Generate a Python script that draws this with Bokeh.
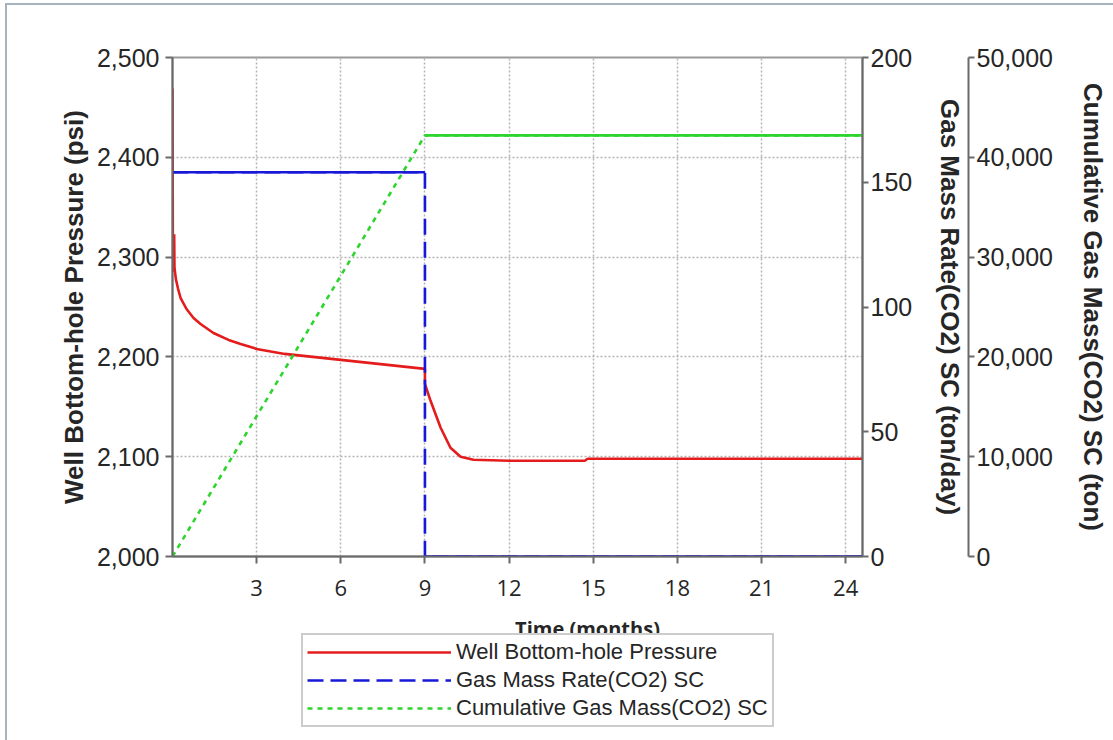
from bokeh.plotting import figure
from bokeh.layouts import column
from bokeh.models import (LinearAxis, Range1d, FixedTicker, NumeralTickFormatter,
                          Legend, LegendItem, Label)
from bokeh.embed import file_html
from bokeh.resources import INLINE

# ---------------- data ----------------
pressure_time = [0.0, 0.015, 0.06, 0.07, 0.12, 0.2, 0.29, 0.5, 0.75, 1.0, 1.46, 2.0, 2.43,
                 3.0, 4.0, 5.0, 6.0, 7.0, 8.0, 9.0,
                 9.0, 9.2, 9.56, 9.91, 10.27, 10.73, 12.0, 14.7, 14.8, 24.6]
pressure_psi = [2469, 2285, 2323, 2290, 2278, 2268, 2259, 2248, 2239, 2233, 2224, 2217, 2213,
                2208, 2203, 2200, 2197, 2194, 2191, 2188,
                2173, 2156, 2129, 2109, 2100, 2097, 2096, 2096, 2098, 2098]

rate_time = [0.0, 9.0, 9.0, 24.6]
rate_ton_day = [154, 154, 0, 0]

cum_time = [0.0, 9.0, 24.6]
cum_ton = [0, 42200, 42200]

x_ticks = [3, 6, 9, 12, 15, 18, 21, 24]
psi_ticks = [2000, 2100, 2200, 2300, 2400, 2500]
rate_ticks = [0, 50, 100, 150, 200]
cum_ticks = [0, 10000, 20000, 30000, 40000, 50000]

series_names = ["Well Bottom-hole Pressure", "Gas Mass Rate(CO2) SC",
                "Cumulative Gas Mass(CO2) SC"]
x_title = "Time (months)"
rate_title = "Gas Mass Rate(CO2) SC (ton/day)"
cum_title = "Cumulative Gas Mass(CO2) SC (ton)"

# ---------------- styles ----------------
RED = "#e41c1c"
BLUE = "#1818d8"
GREEN = "#2ed42e"
AX = "#6a6a6a"
TXT = "#262626"
NUM_FONT = "Liberation Sans"
NUM_SIZE = "25px"
TITLE_SIZE = "26px"
W = 1106
LEFT = 165
RIGHT = 251
FRAME_W = W - LEFT - RIGHT

p = figure(width=W, height=605, output_backend="svg", toolbar_location=None,
           x_range=Range1d(0, 24.6), y_range=Range1d(2000, 2500),
           min_border_left=LEFT, min_border_right=RIGHT, min_border_top=52,
           min_border_bottom=54, background_fill_color="white",
           border_fill_color="white")
p.extra_y_ranges = {"rate": Range1d(0, 200), "cum": Range1d(0, 50000)}

p.outline_line_color = "#9a9a9a"
p.outline_line_width = 2

for g, t in ((p.xgrid, x_ticks), (p.ygrid, psi_ticks)):
    g.ticker = FixedTicker(ticks=t)
    g.grid_line_color = "#b4b4b4"
    g.grid_line_dash = "2 2"
    g.grid_line_width = 1.5


def style_axis(ax, ticks, font, size, tick_out=7):
    ax.ticker = FixedTicker(ticks=ticks)
    ax.axis_line_color = AX
    ax.axis_line_width = 2
    ax.major_tick_line_color = AX
    ax.major_tick_line_width = 2
    ax.major_tick_out = tick_out
    ax.major_tick_in = 0
    ax.minor_tick_line_color = None
    ax.major_label_text_font = font
    ax.major_label_text_font_size = size
    ax.major_label_text_color = TXT
    ax.axis_label_text_font = "Liberation Sans"
    ax.axis_label_text_font_style = "bold"
    ax.axis_label_text_font_size = TITLE_SIZE
    ax.axis_label_text_color = TXT


# x axis
xa = p.xaxis[0]
style_axis(xa, x_ticks, "Open Sans", "22px")
xa.major_label_standoff = 16

# left axis
ya = p.yaxis[0]
style_axis(ya, psi_ticks, NUM_FONT, NUM_SIZE)
ya.formatter = NumeralTickFormatter(format="0,0")
ya.major_label_standoff = 6
ya.axis_label = "Well Bottom-hole Pressure (psi)"
ya.axis_label_standoff = 5

# right axis 1
ra = LinearAxis(y_range_name="rate")
style_axis(ra, rate_ticks, NUM_FONT, NUM_SIZE, tick_out=6)
ra.major_label_standoff = 2
ra.axis_label = rate_title
ra.axis_label_standoff = 20
p.add_layout(ra, "right")

# right axis 2
ca = LinearAxis(y_range_name="cum")
style_axis(ca, cum_ticks, NUM_FONT, NUM_SIZE, tick_out=6)
ca.formatter = NumeralTickFormatter(format="0,0")
ca.major_label_standoff = 2
ca.axis_label = cum_title
ca.axis_label_standoff = 22
p.add_layout(ca, "right")

# ---------------- lines ----------------
LW = 2.6
DASH_R = "16 7"
DASH_C = "5 5"
p.line(pressure_time, pressure_psi, line_color=RED, line_width=LW)
p.line(rate_time, rate_ton_day, y_range_name="rate", line_color=BLUE,
       line_width=LW, line_dash=DASH_R)
p.line(cum_time, cum_ton, y_range_name="cum", line_color=GREEN,
       line_width=LW, line_dash=DASH_C)


def flat_parts(xs, ys):
    x0, y0, x1, y1 = [], [], [], []
    for i in range(len(xs) - 1):
        if ys[i] == ys[i + 1] and xs[i] != xs[i + 1]:
            x0.append(xs[i]); y0.append(ys[i]); x1.append(xs[i + 1]); y1.append(ys[i + 1])
    return x0, y0, x1, y1


x0, y0, x1, y1 = flat_parts(rate_time, rate_ton_day)
p.segment(x0, y0, x1, y1, y_range_name="rate", line_color=BLUE, line_width=LW)
x0, y0, x1, y1 = flat_parts(cum_time, cum_ton)
p.segment(x0, y0, x1, y1, y_range_name="cum", line_color=GREEN, line_width=LW)

# ---------------- lower strip: x title + legend ----------------
H2 = 130
p2 = figure(width=W, height=H2, output_backend="svg", toolbar_location=None,
            x_range=Range1d(0, FRAME_W), y_range=Range1d(0, H2),
            x_axis_location=None, y_axis_location=None, min_border=0,
            outline_line_color=None, background_fill_color="white",
            border_fill_color="white")
p2.grid.visible = False
p2.title.standoff = 0
p2.title.text_font_size = "1px"
p2.extra_y_ranges = {"off": Range1d(1e7, 1e7 + 1)}

l_p = p2.line(pressure_time, pressure_psi, y_range_name="off", line_color=RED,
              line_width=LW)
l_r = p2.line(rate_time, rate_ton_day, y_range_name="off", line_color=BLUE,
              line_width=LW, line_dash=DASH_R)
l_c = p2.line(cum_time, cum_ton, y_range_name="off", line_color=GREEN,
              line_width=LW, line_dash=DASH_C)

legend = Legend(items=[LegendItem(label=series_names[0], renderers=[l_p]),
                       LegendItem(label=series_names[1], renderers=[l_r]),
                       LegendItem(label=series_names[2], renderers=[l_c])],
                location=(129, 13))
legend.glyph_width = 144
legend.glyph_height = 24
legend.label_standoff = 5
legend.spacing = 2
legend.padding = 4
legend.margin = 0
legend.label_text_font = "Liberation Sans"
legend.label_text_font_size = "22px"
legend.label_text_color = TXT
legend.border_line_color = "#9a9a9a"
legend.border_line_width = 2
legend.background_fill_color = "white"
legend.background_fill_alpha = 1
p2.add_layout(legend)

p2.add_layout(Label(x=415, y=112, text=x_title, text_align="center",
                    text_baseline="middle", text_font="Open Sans",
                    text_font_style="bold", text_font_size="20px", text_color=TXT,
                    background_fill_color="white", background_fill_alpha=1))

layout = column(p, p2, spacing=0, margin=(5, 0, 0, 7),
                styles={"outline": "2px solid #a6b4c0"})

open("out.html", "w").write(file_html(layout, INLINE))
